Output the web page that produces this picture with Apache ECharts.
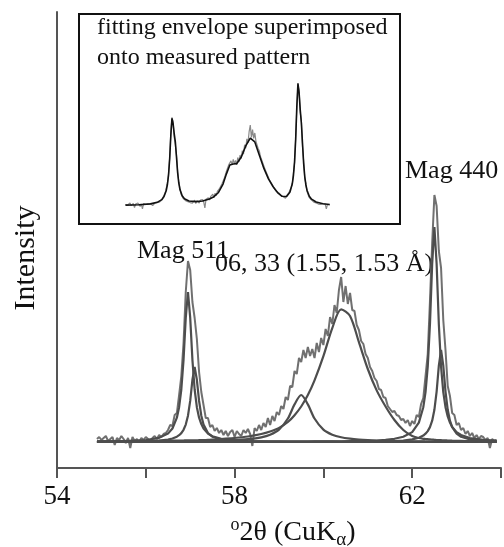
<!DOCTYPE html>
<html>
<head>
<meta charset="utf-8">
<script src="https://cdn.jsdelivr.net/npm/echarts@6/dist/echarts.min.js"></script>
<style>
  html, body { margin: 0; padding: 0; background: #fff; }
  #xrdChart { width: 504px; height: 547px; }
</style>
</head>
<body>
<div id="xrdChart"></div>
<script>
// measured pattern, step scan in degrees 2-theta
const scanStart = 54.9
const scanStep = 0.05
const measured = [
  3, 5, 2, 4, 6, 1, 3, 5, -3, 4,
  2, 6, 3, -1, 4, -6, 5, 1, 3, 0,
  4, 2, 5, 3, 1, 4, 6, 3, 7, 5,
  8, 9, 12,
  17, 16, 27, 29, 47, 66, 99, 150, 181, 172,
  140, 124, 103, 70, 50, 37, 24, 24, 15, 17,
  11, 14, 9, 12, 7, 11, 6, 10, 12, 5,
  11, 8, 6, 12, 9, 13, 8, -4, 14, 11,
  17, 12, 19, 15, 24, 17, 26, 21, 30, 27,
  36, 33, 45, 42, 56, 55, 71, 68, 84, 80,
  92, 84, 95, 86, 93, 84, 99, 90, 104, 97,
  113, 106, 125, 118, 137, 129, 152, 165, 140, 156,
  138, 149, 132, 131, 117, 112, 101, 98, 88, 84,
  75, 71, 64, 61, 53, 52, 45, 44, 36, 33,
  30, 31, 27, 26, 22, 23, 19, 22, 16, 21,
  18, 27, 25, 38, 44, 66, 88, 141, 199, 247,
  236, 191, 174, 122, 92, 56, 46, 29, 27, 17,
  19, 12, 14, 8, 11, 6, 9, 4, 7, 3,
  6, 5, 2, 4, -6, 3, 1, 2
]

// fitted components, read at these angles
const fitAngles = [
  54.9, 55.5, 56.0, 56.3, 56.5, 56.6, 56.7, 56.75, 56.8, 56.85,
  56.9, 56.95, 57.0, 57.05, 57.1, 57.15, 57.2, 57.25, 57.3, 57.4,
  57.5, 57.7, 58.0, 58.3, 58.6, 58.8, 59.0, 59.2, 59.35, 59.5,
  59.65, 59.8, 60.0, 60.2, 60.4, 60.6, 60.8, 61.0, 61.2, 61.4,
  61.6, 61.8, 62.0, 62.15, 62.25, 62.3, 62.35, 62.4, 62.45, 62.5,
  62.55, 62.6, 62.65, 62.7, 62.75, 62.8, 62.85, 62.9, 63.0, 63.1,
  63.3, 63.6, 63.9
]
const mag511a1 = [
  0.4, 0.9, 2.0, 4.2, 8.4, 13.5, 24.3, 34.8, 52.5, 82.2,
  124.4, 150, 124.4, 82.2, 52.5, 34.8, 24.3, 17.9, 13.5, 8.4,
  5.7, 3.2, 1.6, 1.0, 0.7, 0.5, 0.4, 0.4, 0.3, 0.3,
  0.3, 0.3, 0.3, 0.3, 0.2, 0.2, 0.2, 0.2, 0.2, 0.2,
  0.2, 0.2, 0.2, 0.2, 0.2, 0.2, 0.2, 0.2, 0.2, 0.2,
  0.2, 0.2, 0.2, 0.2, 0.2, 0.2, 0.2, 0.2, 0.1, 0.1,
  0.1, 0.1, 0.1
]
const mag511a2 = [
  0.2, 0.3, 0.7, 1.4, 2.4, 3.5, 5.3, 6.8, 8.9, 12.2,
  17.4, 26.3, 41.1, 62.2, 75, 62.2, 41.1, 26.3, 17.4, 8.9,
  5.3, 2.4, 1.1, 0.6, 0.4, 0.3, 0.3, 0.2, 0.2, 0.2,
  0.2, 0.2, 0.2, 0.2, 0.2, 0.2, 0.2, 0.2, 0.2, 0.2,
  0.2, 0.1, 0.1, 0.1, 0.1, 0.1, 0.1, 0.1, 0.1, 0.1,
  0.1, 0.1, 0.1, 0.1, 0.1, 0.1, 0.1, 0.1, 0.1, 0.1,
  0.1, 0.1, 0.1
]
const band0633a = [
  0.2, 0.3, 0.3, 0.4, 0.5, 0.5, 0.5, 0.5, 0.5, 0.6,
  0.6, 0.6, 0.6, 0.6, 0.7, 0.7, 0.7, 0.7, 0.8, 0.9,
  1.0, 1.3, 1.8, 2.8, 4.7, 7.3, 12.4, 23.5, 37.6, 47,
  37.6, 23.5, 12.4, 7.3, 4.7, 3.3, 2.4, 1.8, 1.4, 1.1,
  0.9, 0.8, 0.7, 0.6, 0.6, 0.5, 0.5, 0.5, 0.5, 0.5,
  0.5, 0.5, 0.5, 0.5, 0.5, 0.5, 0.5, 0.5, 0.4, 0.4,
  0.4, 0.4, 0.4
]
const band0633b = [
  0.6, 0.8, 1.0, 1.2, 1.3, 1.4, 1.4, 1.5, 1.5, 1.5,
  1.6, 1.6, 1.6, 1.7, 1.7, 1.7, 1.8, 1.8, 1.9, 2.1,
  2.3, 3.0, 4.0, 5.5, 8.0, 10.5, 14, 20, 26.8, 35.5,
  46.9, 61.6, 85.8, 113.9, 132.7, 126, 99.8, 73, 51.6, 35.5,
  22, 12, 6, 4, 3.2, 3.0, 2.8, 2.6, 2.4, 2.2,
  2.0, 1.9, 1.8, 1.7, 1.6, 1.5, 1.4, 1.3, 1.2, 1.1,
  0.9, 0.7, 0.5
]
const mag440a1 = [
  0.2, 0.2, 0.2, 0.2, 0.2, 0.2, 0.2, 0.2, 0.2, 0.2,
  0.2, 0.2, 0.2, 0.2, 0.2, 0.2, 0.2, 0.2, 0.2, 0.3,
  0.3, 0.3, 0.3, 0.3, 0.3, 0.3, 0.4, 0.4, 0.5, 0.5,
  0.5, 0.6, 0.6, 0.7, 0.7, 0.8, 0.9, 1.1, 1.5, 2.1,
  3.2, 5.2, 9.9, 19.4, 34.8, 49.9, 75.3, 117.8, 178.2, 215,
  178.2, 117.8, 75.3, 49.9, 34.8, 25.6, 19.4, 15.1, 9.9, 7.0,
  4.0, 2.1, 1.3
]
const mag440a2 = [
  0.1, 0.1, 0.1, 0.1, 0.1, 0.1, 0.1, 0.1, 0.1, 0.1,
  0.1, 0.1, 0.1, 0.1, 0.1, 0.1, 0.1, 0.1, 0.1, 0.1,
  0.1, 0.1, 0.1, 0.1, 0.1, 0.1, 0.1, 0.2, 0.2, 0.2,
  0.2, 0.2, 0.2, 0.2, 0.2, 0.2, 0.2, 0.4, 0.5, 0.7,
  1.0, 1.5, 2.6, 4.2, 6.4, 8.3, 10.9, 14.9, 21.3, 32.2,
  50.4, 76.3, 92, 76.3, 50.4, 32.2, 21.3, 14.9, 8.3, 5.2,
  2.6, 1.2, 0.7
]
const backgroundLevel = 0
const xTicks = [54, 58, 62]

const components = [mag511a1, mag511a2, band0633a, band0633b, mag440a1, mag440a2]
const measuredData = measured.map((v, i) => [+(scanStart + i * scanStep).toFixed(2), v])
const envelope = fitAngles.map((a, i) => [a, components.reduce((s, c) => s + c[i], backgroundLevel)])
const serif = '"Liberation Serif", "Times New Roman", serif'

const chart = echarts.init(document.getElementById('xrdChart'), null, { renderer: 'canvas' })

const fitSeries = components.map((c, k) => ({
  type: 'line',
  xAxisIndex: 0,
  yAxisIndex: 0,
  data: fitAngles.map((a, i) => [a, c[i]]),
  showSymbol: false,
  smooth: (k === 2 || k === 3) ? 0.3 : false,
  lineStyle: { color: '#4d4d4d', width: 2.2 },
  z: 3
}))

const option = {
  animation: false,
  backgroundColor: '#fff',
  grid: [
    { left: 57, top: 12, width: 453, height: 456 },
    { left: 105, top: 83.5, width: 227, height: 132.3 }
  ],
  xAxis: [
    {
      gridIndex: 0,
      type: 'value',
      min: 54,
      max: 64,
      interval: 2,
      axisLine: { show: true, onZero: false, lineStyle: { color: '#555', width: 2 } },
      axisTick: { show: true, inside: false, length: 10, lineStyle: { color: '#555', width: 2 } },
      axisLabel: {
        margin: 15,
        fontFamily: serif,
        fontSize: 27,
        color: '#111',
        formatter: v => (xTicks.indexOf(v) >= 0 ? String(v) : '')
      },
      splitLine: { show: false }
    },
    { gridIndex: 1, type: 'value', min: 54, max: 64, show: false }
  ],
  yAxis: [
    {
      gridIndex: 0,
      type: 'value',
      min: -26,
      max: 430,
      axisLine: { show: true, onZero: false, lineStyle: { color: '#555', width: 2 } },
      axisTick: { show: false },
      axisLabel: { show: false },
      splitLine: { show: false }
    },
    { gridIndex: 1, type: 'value', min: -20, max: 250, show: false }
  ],
  series: [
    {
      type: 'line',
      data: measuredData,
      showSymbol: false,
      lineStyle: { color: '#707070', width: 2 },
      z: 2
    },
    {
      type: 'line',
      data: [[fitAngles[0], backgroundLevel], [fitAngles[fitAngles.length - 1], backgroundLevel]],
      showSymbol: false,
      lineStyle: { color: '#555', width: 2.2 },
      z: 3
    },
    ...fitSeries,
    {
      type: 'line',
      xAxisIndex: 1,
      yAxisIndex: 1,
      data: measuredData,
      showSymbol: false,
      lineStyle: { color: '#8a8a8a', width: 1.2 },
      z: 4
    },
    {
      type: 'line',
      xAxisIndex: 1,
      yAxisIndex: 1,
      data: envelope,
      showSymbol: false,
      lineStyle: { color: '#111', width: 1.6 },
      z: 5
    }
  ],
  graphic: [
    {
      type: 'rect',
      shape: { x: 79, y: 14, width: 321, height: 210 },
      style: { fill: 'none', stroke: '#111', lineWidth: 2 },
      silent: true
    },
    {
      type: 'text', x: 97, y: 28, silent: true,
      style: { text: 'fitting envelope superimposed', font: '24px ' + serif, fill: '#111', textAlign: 'left', textVerticalAlign: 'middle', align: 'left', verticalAlign: 'middle' }
    },
    {
      type: 'text', x: 97, y: 58, silent: true,
      style: { text: 'onto measured pattern', font: '24px ' + serif, fill: '#111', textAlign: 'left', textVerticalAlign: 'middle', align: 'left', verticalAlign: 'middle' }
    },
    {
      type: 'text', x: 405, y: 171, silent: true,
      style: { text: 'Mag 440', font: '26px ' + serif, fill: '#111', textAlign: 'left', textVerticalAlign: 'middle', align: 'left', verticalAlign: 'middle' }
    },
    {
      type: 'text', x: 137, y: 251, silent: true,
      style: { text: 'Mag 511', font: '26px ' + serif, fill: '#111', textAlign: 'left', textVerticalAlign: 'middle', align: 'left', verticalAlign: 'middle' }
    },
    {
      type: 'text', x: 215, y: 264, silent: true,
      style: { text: '06, 33 (1.55, 1.53 Å)', font: '26px ' + serif, fill: '#111', textAlign: 'left', textVerticalAlign: 'middle', align: 'left', verticalAlign: 'middle' }
    },
    {
      type: 'text', x: 26.5, y: 258, rotation: Math.PI / 2, silent: true,
      style: { text: 'Intensity', font: '30px ' + serif, fill: '#111', textAlign: 'center', textVerticalAlign: 'middle', align: 'center', verticalAlign: 'middle' }
    },
    {
      type: 'text', x: 293, y: 533, silent: true,
      style: {
        text: '{sup|o}{main|2θ (CuK}{sub|α}{main|)}',
        fill: '#111',
        textAlign: 'center', textVerticalAlign: 'middle', align: 'center', verticalAlign: 'middle',
        rich: {
          main: { fontFamily: serif, fontSize: 28, lineHeight: 34, fill: '#111', color: '#111' },
          sup: { fontFamily: serif, fontSize: 18, lineHeight: 16, verticalAlign: 'top', fill: '#111', color: '#111' },
          sub: { fontFamily: serif, fontSize: 19, lineHeight: 24, verticalAlign: 'bottom', fill: '#111', color: '#111' }
        }
      }
    }
  ]
}

chart.setOption(option)
</script>
</body>
</html>
